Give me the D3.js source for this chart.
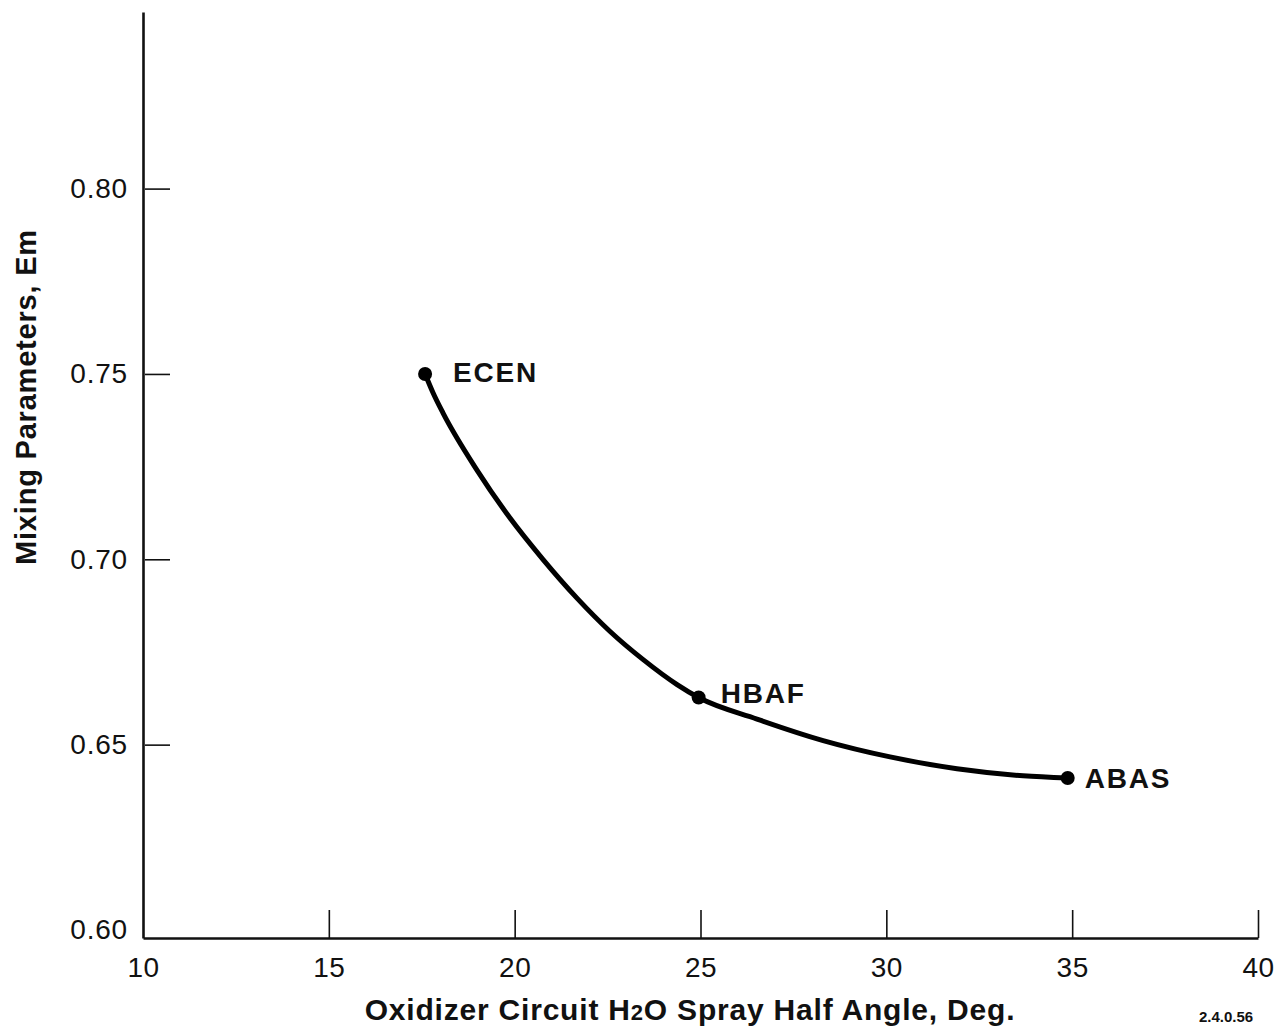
<!DOCTYPE html>
<html>
<head>
<meta charset="utf-8">
<script src="https://cdn.jsdelivr.net/npm/d3@7"></script>
<style>
  html, body { margin: 0; padding: 0; background: #fff; }
  svg { display: block; }
  text { font-family: "Liberation Sans", Arial, Helvetica, sans-serif; fill: #111; }
</style>
</head>
<body>
<svg id="chart" width="1279" height="1030"></svg>
<script>
// ---- data ----
const curveX = [17.59, 17.80, 18.07, 18.99, 19.87, 20.76, 21.67, 22.56, 23.45, 24.37, 24.95, 26.52, 28.30, 30.10, 31.90, 33.68, 34.88];
const curveY = [0.7500, 0.7450, 0.7395, 0.7240, 0.7112, 0.7000, 0.6896, 0.6806, 0.6730, 0.6662, 0.6627, 0.6569, 0.6511, 0.6467, 0.6435, 0.6416, 0.6410];
const pointNames = ["ECEN", "HBAF", "ABAS"];
const pointX = [17.59, 24.95, 34.88];
const pointY = [0.7500, 0.6627, 0.6410];
const xTicks = [10, 15, 20, 25, 30, 35, 40];
const yTicks = [0.60, 0.65, 0.70, 0.75, 0.80];
const xTitle = ["Oxidizer Circuit H", "2", "O Spray Half Angle, Deg."];
const yTitle = "Mixing Parameters, Em";
const footnote = "2.4.0.56";

// ---- layout ----
const svg = d3.select("#chart");
const mLeft = 143, mRight = 1258, mBottom = 938, mTop = 12;
const x = d3.scaleLinear().domain([10, 40]).range([mLeft, mRight]);
const y = d3.scaleLinear().domain([0.59784, 0.84764]).range([mBottom, mTop]);

// x axis
const gx = svg.append("g").attr("transform", `translate(0,${mBottom})`)
  .call(d3.axisBottom(x).tickValues(xTicks).tickFormat(d3.format("d"))
    .tickSizeInner(-28).tickSizeOuter(0).tickPadding(19));
gx.select(".domain").attr("stroke", "#111").attr("stroke-width", 2.6);
gx.selectAll(".tick line").attr("stroke", "#111").attr("stroke-width", 1.6)
  .filter(d => d === 10).remove();
gx.selectAll(".tick text").attr("font-size", 28).attr("font-family", "Liberation Sans, Arial, sans-serif")
  .attr("fill", "#111").attr("letter-spacing", 0.5);

// y axis
const gy = svg.append("g").attr("transform", `translate(${mLeft},0)`)
  .call(d3.axisLeft(y).tickValues(yTicks).tickFormat(d3.format(".2f"))
    .tickSizeInner(-27).tickSizeOuter(0).tickPadding(15));
gy.select(".domain").attr("stroke", "#111").attr("stroke-width", 2.6);
gy.selectAll(".tick line").attr("stroke", "#111").attr("stroke-width", 1.6)
  .attr("x1", 2).filter(d => Math.abs(d - 0.60) < 1e-9).remove();
gy.selectAll(".tick text").attr("font-size", 28).attr("font-family", "Liberation Sans, Arial, sans-serif")
  .attr("fill", "#111").attr("letter-spacing", 0.8);

// curve
const line = d3.line().x((d, i) => x(curveX[i])).y((d, i) => y(curveY[i])).curve(d3.curveMonotoneX);
svg.append("path").datum(curveX).attr("d", line)
  .attr("fill", "none").attr("stroke", "#000").attr("stroke-width", 5)
  .attr("stroke-linecap", "round").attr("stroke-linejoin", "round");

// points and labels
const labelDx = [28, 22, 17];
const labelDy = [8, 5, 10];
svg.selectAll("circle.pt").data(pointNames).enter().append("circle")
  .attr("class", "pt")
  .attr("cx", (d, i) => x(pointX[i])).attr("cy", (d, i) => y(pointY[i]))
  .attr("r", 7).attr("fill", "#000");
svg.selectAll("text.lbl").data(pointNames).enter().append("text")
  .attr("class", "lbl")
  .attr("x", (d, i) => x(pointX[i]) + labelDx[i])
  .attr("y", (d, i) => y(pointY[i]) + labelDy[i])
  .attr("font-size", 28).attr("font-weight", "bold").attr("letter-spacing", 1.8)
  .text(d => d);

// x title
const xt = svg.append("text").attr("x", 690).attr("y", 1020)
  .attr("text-anchor", "middle").attr("font-size", 30).attr("font-weight", "bold")
  .attr("letter-spacing", 0.8);
xt.append("tspan").text(xTitle[0]);
xt.append("tspan").attr("font-size", 22).text(xTitle[1]);
xt.append("tspan").text(xTitle[2]);

// y title
svg.append("text").attr("transform", "translate(36,397) rotate(-90)")
  .attr("text-anchor", "middle").attr("font-size", 29).attr("font-weight", "bold")
  .attr("letter-spacing", 0.8).text(yTitle);

// footnote
svg.append("text").attr("x", 1226).attr("y", 1022).attr("text-anchor", "middle")
  .attr("font-size", 15).attr("font-weight", "bold").attr("fill", "#222").text(footnote);
</script>
</body>
</html>
